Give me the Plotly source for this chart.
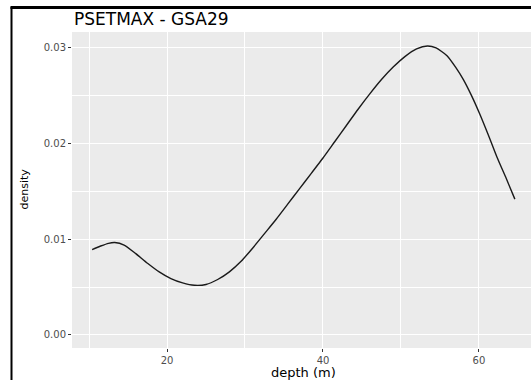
import plotly.graph_objects as go

title_text = "PSETMAX - GSA29"
x_label = "depth (m)"
y_label = "density"

depth = [10.4, 11.5, 12.5, 13.3, 14.5, 16.0, 17.5, 19.0, 20.5, 22.0, 23.5, 25.0,
         26.5, 28.0, 29.5, 31.0, 32.5, 34.0, 35.5, 37.0, 38.5, 40.0, 41.5, 43.0,
         44.5, 46.0, 47.5, 49.0, 50.5, 52.0, 53.4, 54.5, 55.9, 57.0, 58.0, 59.0,
         60.1, 61.2, 62.3, 63.5, 64.6]
density = [0.00893, 0.0093, 0.00958, 0.00966, 0.0094, 0.0085, 0.0075, 0.0066,
           0.0059, 0.00545, 0.0052, 0.00528, 0.0058, 0.0066, 0.0077, 0.0091,
           0.0106, 0.0121, 0.0137, 0.0153, 0.0169, 0.0185, 0.0202, 0.0219,
           0.0236, 0.0252, 0.0267, 0.0280, 0.0291, 0.0299, 0.0302, 0.0300,
           0.0292, 0.0280, 0.0267, 0.0251, 0.0231, 0.0209, 0.0186, 0.01635, 0.0142]

x_ticks = [20, 40, 60]
y_ticks = [0.00, 0.01, 0.02, 0.03]
y_tick_labels = ["0.00", "0.01", "0.02", "0.03"]

fig = go.Figure()
fig.add_trace(go.Scatter(x=depth, y=density, mode="lines",
                         line=dict(color="#1a1a1a", width=1.4, shape="spline", smoothing=0.6),
                         showlegend=False, hoverinfo="skip"))

W, H = 531, 380
ml, mr, mt, mb = 72, 0, 32, 32
pw, ph = W - ml - mr, H - mt - mb

def px(x):
    return (x - ml) / pw

def py(y):
    return (H - mb - y) / ph

tickfont = dict(family="DejaVu Sans", size=10, color="#4D4D4D")
fig.update_layout(
    width=W, height=H,
    margin=dict(l=ml, r=mr, t=mt, b=mb, autoexpand=False),
    paper_bgcolor="white", plot_bgcolor="#EBEBEB",
    xaxis=dict(range=[7.82, 66.67], tickvals=x_ticks, showgrid=True, gridcolor="white",
               gridwidth=1.1, zeroline=False, ticks="outside", ticklen=3, tickwidth=1,
               tickcolor="#333333", tickfont=tickfont, showline=False,
               minor=dict(dtick=10, tick0=0, showgrid=True, gridcolor="white", gridwidth=0.5,
                          ticks="")),
    yaxis=dict(range=[-0.00136, 0.03167], tickvals=y_ticks, ticktext=y_tick_labels,
               showgrid=True, gridcolor="white", gridwidth=1.1, zeroline=False,
               ticks="outside", ticklen=3, tickwidth=1, tickcolor="#333333",
               tickfont=tickfont, showline=False,
               minor=dict(dtick=0.005, tick0=0, showgrid=True, gridcolor="white",
                          gridwidth=0.5, ticks="")),
    annotations=[
        dict(text=title_text, x=px(72), y=py(19), xref="paper", yref="paper",
             xanchor="left", yanchor="middle", showarrow=False,
             font=dict(family="DejaVu Sans", size=17, color="black")),
        dict(text=x_label, x=px(303), y=py(372), xref="paper", yref="paper",
             xanchor="center", yanchor="middle", showarrow=False,
             font=dict(family="DejaVu Sans", size=13, color="black")),
        dict(text=y_label, x=px(23.5), y=py(189), xref="paper", yref="paper",
             xanchor="center", yanchor="middle", showarrow=False, textangle=-90,
             font=dict(family="DejaVu Sans", size=11, color="black")),
    ],
    shapes=[
        dict(type="line", xref="paper", yref="paper", x0=px(11.5), x1=px(11.5),
             y0=py(7), y1=py(380), line=dict(color="black", width=2)),
        dict(type="line", xref="paper", yref="paper", x0=px(10.5), x1=px(531),
             y0=py(7.5), y1=py(7.5), line=dict(color="black", width=3)),
    ],
)

fig.write_html("out.html")
